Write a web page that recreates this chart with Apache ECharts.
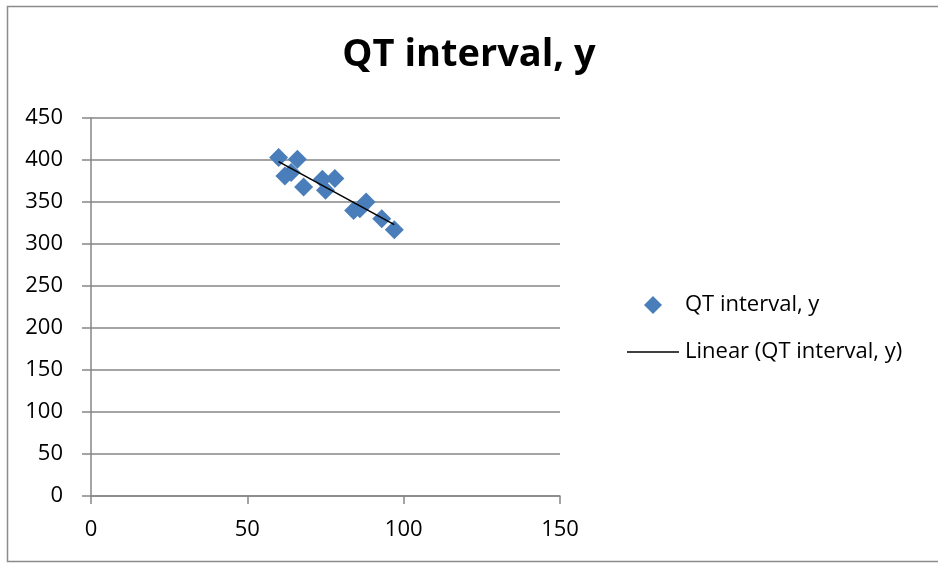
<!DOCTYPE html>
<html>
<head>
<meta charset="utf-8">
<script src="https://cdn.jsdelivr.net/npm/echarts@6/dist/echarts.min.js"></script>
<style>
    html, body { margin: 0; padding: 0; background: #fff; }
    #chart { width: 938px; height: 563px; }
</style>
</head>
<body>
<div id="chart"></div>
<script>
// heart rate, x  /  QT interval, y
const heartRate = [60, 66, 62, 64, 68, 75, 74, 78, 84, 86, 88, 93, 97];
const qtInterval = [403, 401, 381, 385, 368, 364, 377, 378, 340, 342, 350, 330, 317];

// trend line end points
const trendX = [60, 97];
const trendY = [398, 323];

const xTicks = [0, 50, 100, 150];
const yTicks = [0, 50, 100, 150, 200, 250, 300, 350, 400, 450];

const FONT = '"Open Sans", Lato, sans-serif';

const chart = echarts.init(document.getElementById('chart'));

const option = {
    animation: false,
    backgroundColor: '#fff',
    title: {
        text: 'QT interval, y',
        left: 'center',
        top: 31,
        textStyle: { fontFamily: FONT, fontSize: 38, fontWeight: 'bold', color: '#000' },
    },
    graphic: [
        {
            type: 'rect',
            shape: { x: 7.5, y: 6.5, width: 940, height: 555 },
            style: { fill: 'none', stroke: '#8c8c8c', lineWidth: 1.5 },
            silent: true,
        },
    ],
    legend: [
        {
            data: [{ name: 'QT interval, y', icon: 'diamond' }],
            left: 639,
            top: 289,
            itemWidth: 18,
            itemHeight: 18,
            textStyle: { fontFamily: FONT, fontSize: 22, color: '#000', padding: [0, 0, 0, 18] },
        },
        {
            data: [{ name: 'Linear (QT interval, y)', icon: 'rect' }],
            left: 622,
            top: 336,
            itemWidth: 52,
            itemHeight: 1.5,
            textStyle: { fontFamily: FONT, fontSize: 22, color: '#000', padding: [0, 0, 0, 1] },
        },
    ],
    grid: { left: 91, top: 118, width: 469, height: 378 },
    xAxis: {
        type: 'value',
        min: xTicks[0],
        max: xTicks[xTicks.length - 1],
        interval: 50,
        axisLine: { lineStyle: { color: '#868686', width: 1.5 } },
        axisTick: { show: true, length: 8, lineStyle: { color: '#868686', width: 1.5 } },
        splitLine: { show: false },
        axisLabel: { fontFamily: FONT, fontSize: 22, color: '#000', margin: 23 },
    },
    yAxis: {
        type: 'value',
        min: yTicks[0],
        max: yTicks[yTicks.length - 1],
        interval: 50,
        axisLine: { show: true, lineStyle: { color: '#868686', width: 1.5 } },
        axisTick: { show: true, length: 9, lineStyle: { color: '#868686', width: 1.5 } },
        splitLine: { show: true, lineStyle: { color: '#868686', width: 1.5 } },
        axisLabel: { fontFamily: FONT, fontSize: 22, color: '#000', margin: 28 },
    },
    series: [
        {
            name: 'QT interval, y',
            type: 'scatter',
            symbol: 'diamond',
            symbolSize: 19,
            itemStyle: { color: '#4a7ebb', opacity: 1 },
            data: heartRate.map((x, i) => [x, qtInterval[i]]),
        },
        {
            name: 'Linear (QT interval, y)',
            type: 'line',
            showSymbol: false,
            symbol: 'none',
            lineStyle: { color: '#000', width: 1.5 },
            itemStyle: { color: '#000' },
            data: trendX.map((x, i) => [x, trendY[i]]),
            z: 3,
        },
    ],
};

chart.setOption(option);
</script>
</body>
</html>
